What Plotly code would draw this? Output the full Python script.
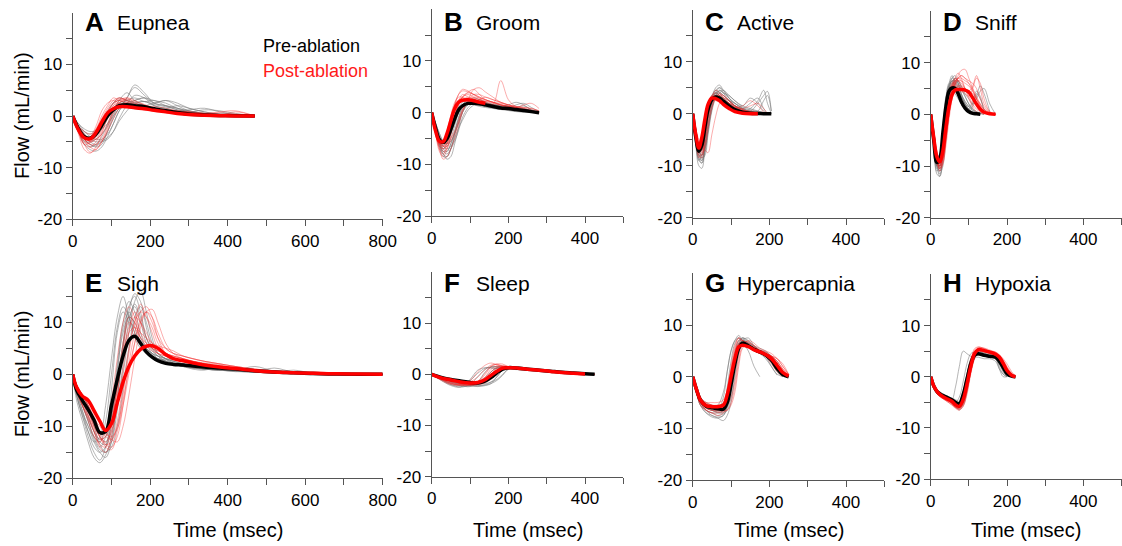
import plotly.graph_objects as go

W, H = 1122, 546
FONT = "Liberation Sans, Arial, Helvetica, sans-serif"

# ---------------- data ----------------
panel_letters = ["A", "B", "C", "D", "E", "F", "G", "H"]
panel_names = ["Eupnea", "Groom", "Active", "Sniff", "Sigh", "Sleep", "Hypercapnia", "Hypoxia"]
x_max = [800, 500, 500, 500, 800, 500, 500, 500]
x_tick_labels = ["0", "200", "400", "600", "800"]
y_tick_labels = ["-20", "-10", "0", "10"]
legend_labels = ["Pre-ablation", "Post-ablation"]
x_title = "Time (msec)"
y_title = "Flow (mL/min)"

# A  Eupnea
A_t = [0, 15, 30, 45, 60, 75, 90, 105, 120, 140, 160, 185, 210, 240, 270, 300, 340, 380, 420, 470]
A_pre_mean = [0, -2.5, -4.0, -4.3, -3.5, -1.8, 0, 1.2, 2.0, 2.2, 2.0, 1.8, 1.4, 1.0, 0.7, 0.4, 0.2, 0.1, 0.05, 0]
A_post_mean = [0, -2.7, -4.2, -4.4, -3.2, -1.2, 0.6, 1.4, 1.8, 1.8, 1.6, 1.4, 1.1, 0.8, 0.5, 0.3, 0.15, 0.05, 0, 0]
A_pre = [
    [0, -2, -3.5, -4.5, -4, -2.5, -0.5, 1.5, 2.5, 3, 2.5, 2, 1.5, 1, 0.6, 0.3, 0.1, 0, 0, 0],
    [0, -3, -5, -6, -5.5, -4, -1.5, 1, 3, 4.5, 3, 2, 1.5, 1.2, 0.8, 0.5, 0.2, 0.1, 0],
    [0, -2, -3, -3.5, -3, -2.5, -1.5, 0, 1.5, 3.5, 6, 4.5, 2.5, 2, 1.5, 1, 0.5, 0.2],
    [0, -3, -5.5, -6.5, -6.8, -6, -4, -1.5, 1, 2.5, 3, 3.5, 2.5, 3, 2, 1, 0.5, 0.2, 0],
    [0, -1.5, -2.5, -3, -2.8, -1.5, 0.5, 2.5, 3.5, 3, 2.5, 2.8, 2, 1.5, 2, 1.5, 0.8, 0.3, 0.1],
    [0, -2.5, -4.5, -5.5, -6, -5.5, -3, 0, 2, 2.5, 4, 3.5, 2, 1.5, 1, 1.2, 1.5, 0.8, 0.3, 0],
    [0, -2, -3.8, -4.2, -3.2, -1, 1, 2.5, 3, 2.2, 1.8, 1.5, 1.2, 0.8, 0.5, 0.3, 0.2, 0, 0],
    [0, -3, -4.8, -5, -4.5, -3.5, -2, 0.5, 2, 3, 3.5, 2.8, 3, 2, 1.5, 0.8, 1.2, 1, 0.5, 0],
    [0, -2.5, -4, -5, -5.5, -5, -4.5, -3, -0.5, 2, 3, 3.5, 3, 2.5, 1.5, 1, 0.5, 0.3, 0.1],
    [0, -1.5, -3, -4, -4.5, -4.5, -3.5, -1.5, 1, 3.5, 5.5, 4, 2.5, 2, 1.2, 0.8, 0.4, 0.1, 0],
    [0, -2.8, -4.5, -5.5, -5.8, -5, -3, -0.5, 1.5, 2.5, 2.2, 2, 2.5, 3, 2.5, 1.5, 0.8, 0.3, 0],
    [0, -2, -3.5, -4.5, -5, -4.8, -4.2, -3, -1, 1, 2.5, 2.8, 2.2, 1.8, 1.2, 0.7, 0.4, 0.2, 0],
]
A_post = [
    [0, -3, -5, -5.2, -4, -1.5, 1, 2.5, 3, 2.5, 2, 1.5, 1.2, 0.8, 0.5, 0.3, 0.1, 0, 0, 0],
    [0, -3.5, -6.5, -7.2, -6, -3.5, 0, 2, 2.5, 2.2, 1.8, 1.5, 1, 0.8, 0.5, 0.3, 0.2, 0.1, 0],
    [0, -2, -3, -3.5, -2.5, 0, 2, 3.5, 3, 2.5, 2, 1.6, 1.2, 0.8, 0.6, 0.4, 0.2, 0.1, 0.8, 0],
    [0, -2.5, -4.5, -5.5, -5.5, -4.5, -2, 1, 3, 3.5, 2.5, 2, 1.5, 1, 0.7, 0.5, 0.3, 0.1, 0],
    [0, -3, -4, -4, -2, 1, 2.5, 3, 2.5, 2, 1.5, 1.2, 1, 1.2, 0.8, 0.5, 0.3],
    [0, -2.5, -4.5, -6, -6.5, -5, -3, -0.5, 1.5, 2.5, 2.2, 2, 1.8, 1.5, 1, 0.8, 0.5, 0.6, 0.4, 0],
    [0, -3, -5.5, -5, -3, -0.5, 1.5, 3, 3.5, 3, 2.5, 1.8, 1.2, 1, 0.8, 0.8, 0.5, 0.3, 0],
    [0, -2, -3.5, -4.5, -4.5, -3.5, -1.5, 1, 2, 1.8, 1.5, 1.2, 1, 0.8, 0.6, 0.4, 0.2, 0.1, 0, 0],
    [0, -3, -5.5, -7, -6.5, -5, -2.5, 0.5, 2.5, 3.5, 3, 2.2, 1.5, 1, 0.7, 0.4, 0.2, 0.1, 0],
    [0, -2, -4, -5, -4.5, -2.5, 0.5, 2.5, 3.5, 3, 2.2, 1.8, 1.4, 1, 0.8, 0.6, 0.5, 0.8, 1, 0],
    [0, -3.2, -5.5, -6, -5, -3, -0.5, 2, 3.2, 2.8, 2, 1.5, 1.2, 0.9, 0.6, 0.4, 0.2, 0.1],
    [0, -2.5, -4.2, -4.8, -4, -2, 0, 1.5, 2.5, 3.2, 2.8, 2.2, 1.5, 1.2, 1, 0.7, 0.4, 0.2, 0],
]

# B  Groom
B_t = [0, 10, 20, 30, 40, 50, 60, 70, 80, 95, 110, 125, 140, 160, 180, 200, 220, 240, 260, 280]
B_pre_mean = [0, -3, -5.2, -5.8, -5, -3.2, -1.2, 0.5, 1.3, 1.8, 1.8, 1.7, 1.5, 1.2, 0.9, 0.8, 0.6, 0.4, 0.2, 0]
B_post_mean = [0, -3.5, -5.5, -5.6, -4, -1.5, 0.8, 2, 2.4, 2.5, 2.3, 2.0, 1.8]
B_pre = [
    [0, -3, -6, -8, -8.5, -7, -4, -1, 1, 2, 2, 1.5, 1.2, 1, 0.8, 0.6, 0.5, 0.3, 0.1, 0],
    [0, -2.5, -5, -6.5, -6, -4, -1.5, 0.5, 1.5, 1.8, 1.5, 1.2, 1, 0.8, 0.6, 0.4, 0.2, 0.1, 0],
    [0, -3, -6.5, -8, -9, -8.5, -6, -3, 0, 2, 2.5, 2.2, 1.8, 1.5, 1.2, 1.5, 2, 1.5, 0.5, 0],
    [0, -2, -4, -5.5, -6, -5.5, -4, -2, 0, 1.5, 2, 2, 1.8, 1.5, 1.2, 1, 1.5, 1.8, 1, 0.2],
    [0, -3.5, -6, -7, -6.5, -5, -2.5, 0, 1.5, 2.5, 2.5, 2, 1.5, 1, 0.8, 0.5, 0.3, 0.1],
    [0, -2.5, -5.5, -7.5, -8, -7, -5.5, -3.5, -1, 1, 2, 2.5, 2, 1.5, 1.2, 0.8, 1, 1.3, 0.6, 0],
    [0, -3, -5, -6, -5, -3, -1, 1, 2, 2.2, 1.8, 1.5, 1.2, 1, 0.8, 0.6, 0.4, 0.2, 0.1, 0],
    [0, -2, -4.5, -6.5, -7, -6.5, -5, -3, -1.5, 0.5, 1.5, 2, 1.8, 1.6, 1.4, 1.2, 1, 0.8, 0.4],
    [0, -2.5, -5, -7, -7.5, -6, -3.5, -1, 1, 2.2, 2.5, 2, 1.5, 1.2, 1, 0.8, 0.5, 0.3, 0.1, 0],
    [0, -3, -6, -7.5, -7.5, -6, -4, -2, 0, 2, 2.8, 2.5, 2, 1.5, 1, 0.8, 0.6, 0.4, 0.2, 0],
    [0, -2, -4, -5.5, -5.5, -4, -2, 0, 1.2, 1.8, 1.6, 1.4, 1.2, 1, 0.8, 0.7, 0.5, 0.3, 0.2, 0],
    [0, -3.5, -6.5, -8.5, -8.5, -7, -4.5, -1.5, 0.5, 1.8, 2.2, 2, 1.8, 1.6, 1.4, 1.2, 1, 0.6, 0.2],
]
B_post = [
    [0, -4, -7, -8, -6, -2, 1.5, 3.5, 4.2, 4, 3.5, 3, 2.5, 2, 1.5, 1, 0.8, 0.5, 0.2, 0],
    [0, -3, -6, -6.5, -5, -2.5, 0, 2, 3, 3.5, 3, 2.5, 2, 1.5, 1.2, 1, 0.8, 0.5],
    [0, -3.5, -7, -9, -8.5, -7, -5, -2.5, 0, 2.5, 4.5, 4.8, 4, 3, 2, 1.5, 1, 0.5, 0.3, 0],
    [0, -3, -5, -5.5, -3.5, -0.5, 2, 3, 3, 2.5, 2.2, 2, 1.8, 1.6, 6.2, 2.5, 1.2, 1, 0.8, 0.3],
    [0, -4, -6.5, -7, -5.5, -3, -0.5, 1.5, 3, 4, 4.5, 3.5, 2.5, 2, 1.5, 1.2, 1, 1.5, 1.8, 0.8],
    [0, -2.5, -5, -6, -6, -5, -3.5, -1.5, 0.5, 2, 3, 2.8, 2.5, 2, 1.5, 1.2, 1, 0.8, 0.5, 0.2],
    [0, -3.5, -6, -7.5, -7, -4.5, -1, 2, 3.5, 3, 2.5, 2, 1.5, 1.2, 1, 0.8, 0.6, 0.4],
    [0, -3, -6, -6, -4, -1, 1.5, 2.5, 2.8, 2.5, 2.2, 2.5, 3, 2.5, 2, 1.5, 1, 0.6, 0.3, 0],
    [0, -3.5, -6, -6.5, -4.5, -1.5, 1.5, 3.5, 4.5, 4.2, 3.5, 2.8, 2.2, 1.8, 1.5, 1.2, 0.9, 0.6, 0.3, 0],
    [0, -2.5, -5, -6.5, -6.5, -5.5, -4, -2, 0.5, 2.5, 3.5, 3.5, 3, 2.5, 2, 1.5, 1.2, 0.8, 0.4, 0.1],
    [0, -3, -5.5, -7, -6, -3.5, -0.5, 1.5, 2.5, 3, 2.8, 2.5, 2.2, 2, 1.8, 1.5, 1.2, 1, 0.8, 0.4],
    [0, -4, -7.5, -8.5, -7, -4, -1, 1.5, 3, 3.8, 3.5, 3, 2.5, 2, 1.6, 1.2, 0.9, 0.5, 0.2, 0],
]

# C  Active
C_t = [0, 8, 16, 24, 32, 40, 50, 60, 70, 80, 95, 110, 130, 150, 170, 185, 195, 205]
C_pre_mean = [0, -4.5, -7.2, -6, -2.5, 0.8, 2.7, 3.2, 3.0, 2.4, 1.5, 0.8, 0.3, 0.1, 0.05, 0, 0, 0]
C_post_mean = [0, -4, -6.6, -4.5, -1, 1.8, 3.0, 2.9, 2.5, 1.8, 1.0, 0.4, 0.1, 0, 0]
C_pre = [
    [0, -5, -8.5, -9, -5, 0, 3.5, 4.5, 4, 3, 2, 1, 0.5, 0.2, 0, 0, 0, 0],
    [0, -4, -7, -8, -6, -2, 2, 4, 5, 4.5, 3, 1.5, 0.5, 1, 2.5, 4.5, 2, 0],
    [0, -6, -10, -10.5, -6, -1, 3, 5, 5.5, 4.5, 3, 2, 1, 0.5, 0.2, 0, 0],
    [0, -4, -7.5, -7, -3, 1, 3, 3.5, 3, 2.5, 2, 1.5, 1, 0.5, 2, 3.5, 4.3, 0.5],
    [0, -5, -8, -8.5, -7, -3, 1, 3.5, 4.5, 4, 3.5, 2.5, 1.5, 3, 2, 0.5, 0],
    [0, -3, -6.5, -8.5, -8, -4, 0.5, 3, 4, 4.5, 3.5, 2.5, 1.5, 1, 0.5, 0.2],
    [0, -4.5, -8, -8, -4, 1, 3.5, 4, 3.5, 3, 2.5, 2, 1.2, 0.8, 0.4, 0.2, 0, 0],
    [0, -5, -9, -9.5, -7, -3, 2, 4.5, 5, 4, 2.5, 1.5, 0.8, 0.3, 0],
    [0, -4, -7.5, -9, -7.5, -3.5, 1, 3.5, 4, 3.5, 2.5, 1.5, 0.8, 0.3, 0.1, 0],
    [0, -5.5, -9, -8, -4, 0.5, 3, 4, 3.5, 2.8, 2, 1.2, 0.6, 0.3, 0.5, 2.5, 3.5, 0.5],
    [0, -3.5, -7, -8, -6.5, -2.5, 1.5, 3.5, 4.5, 4, 3, 2, 1, 0.5, 0.2, 0],
    [0, -4.5, -8.5, -9.5, -6, -1, 2.5, 4, 4.2, 3.5, 2.5, 1.5, 1, 2, 3, 1, 0],
]
C_post = [
    [0, -4, -7, -6, -2, 1.5, 3.5, 3.5, 3, 2.5, 1.5, 1, 0.5, 0.2, 0],
    [0, -4.5, -8, -8.5, -5, -1, 2.5, 3.5, 3.5, 3, 2, 1.2, 0.6, 0.3, 0.1],
    [0, -3, -5, -6, -7, -7.5, -4, -0.5, 2, 3, 2.5, 1.5, 0.8, 0.3, 0],
    [0, -4, -6.5, -5, -1, 2, 3.5, 4, 3.5, 2.5, 1.5, 1, 0.5, 0.2, 0, 0],
    [0, -5, -8.5, -7.5, -3.5, 0.5, 3, 4.5, 4, 3, 2, 1.2, 1, 1.5, 2, 1, 0],
    [0, -3.5, -6, -6.5, -4, 0, 2.5, 3, 2.8, 2.5, 2, 1.5, 0.8, 0.3, 0],
    [0, -4, -7.5, -8, -6, -2, 1.5, 3, 3.5, 3.5, 2.5, 1.5, 0.5, 0.2, 0],
    [0, -4.5, -7, -5, -1.5, 1.5, 2.5, 2.5, 2.2, 2, 1.5, 1, 0.5, 0.5, 0.3, 0],
    [0, -3.5, -6.5, -7, -4.5, -0.5, 2.5, 3.5, 3.2, 2.8, 2, 1.2, 0.6, 0.2, 0],
    [0, -4.5, -7.5, -7, -3, 1, 3, 3.2, 2.8, 2.2, 1.5, 0.8, 0.4, 0.2, 0],
    [0, -3, -6, -7.5, -6.5, -3, 1, 3, 3.8, 3.5, 2.5, 1.5, 0.8, 0.4, 0.1, 0],
    [0, -4, -7, -6.5, -3, 0.5, 2.8, 3.5, 3.2, 2.6, 1.8, 1.2, 1.5, 2.5, 1.5, 0.3],
]

# D  Sniff
D_t = [0, 8, 16, 24, 32, 40, 48, 56, 64, 72, 80, 90, 100, 110, 120, 130, 140, 155, 170]
D_pre_mean = [0, -5, -9.3, -8.5, -3.5, 1.5, 4.5, 5.1, 5.0, 4, 2.5, 1.2, 0.5, 0.2, 0.1, 0]
D_post_mean = [0, -4.5, -8.2, -9.2, -7, -2.5, 1.5, 3.8, 4.7, 4.8, 4.8, 4.7, 4.3, 3.2, 2, 1, 0.4, 0.1, 0]
D_pre = [
    [0, -6, -11, -10, -4, 2, 6, 7.5, 6, 4, 2, 1, 0.5, 0.2, 0],
    [0, -5, -10, -12, -8, -2, 3, 6, 7, 6, 4, 2, 1, 0.5, 0.2, 0],
    [0, -6, -10.5, -9, -3, 3, 6, 6, 5, 3.5, 2, 1, 0.5, 1.5, 3.5, 5.5, 4, 0.5],
    [0, -4, -8.5, -11, -9, -4, 1, 5, 6.5, 6, 5, 3.5, 2, 1, 0.5, 0.2, 0],
    [0, -5.5, -10, -9.5, -5, 1, 5.5, 6.5, 5.5, 4.5, 3.5, 2, 1, 2, 4, 3, 0.5],
    [0, -4.5, -9, -10, -6, 0, 4.5, 7, 7.5, 6, 4, 2.5, 1.5, 0.8, 0.3, 0],
    [0, -6, -10, -8, -2, 3.5, 5.5, 5, 4, 3, 2, 1, 0.5, 0.2, 0],
    [0, -5, -9.5, -11.5, -10, -5, 0, 4, 6, 6.5, 5.5, 4, 3, 2, 3, 4.5, 5, 2, 0],
    [0, -5, -10, -11, -6, 1, 5, 6.5, 6, 5, 3.5, 2, 1, 0.4, 0.1, 0],
    [0, -6, -11.5, -12, -7, 0, 4.5, 6.5, 6.5, 5.5, 4, 2.5, 1.5, 0.8, 0.3, 0],
    [0, -4.5, -9, -10.5, -8, -3, 2, 5.5, 7, 6.5, 5, 3.5, 2, 1, 0.5, 0.2, 0],
    [0, -5, -9.5, -10, -5.5, 1.5, 5.5, 7, 6.5, 5, 3.5, 2, 1.5, 2.5, 4.5, 3.5, 1, 0],
]
D_post = [
    [0, -4, -8, -10, -8, -3, 2, 5, 6.5, 7, 6.5, 5, 3.5, 2, 1, 0.5, 0.2, 0],
    [0, -5, -9, -11, -9.5, -5, 0, 4, 6, 7.5, 8.5, 8.7, 7, 5, 3, 1.5, 0.5, 0.2, 0],
    [0, -4, -7.5, -8.5, -5, 0, 4, 6, 6, 5.5, 5, 4.5, 4, 3, 2, 1, 0.5, 0.2, 0],
    [0, -4.5, -8.5, -10.5, -9, -4, 1, 4.5, 6.5, 7, 7, 6.5, 6, 5, 3.5, 2, 1, 0.3, 0],
    [0, -3.5, -7, -9, -7, -2, 3, 5.5, 5.5, 5, 4.5, 4, 3.5, 5, 7, 6, 3, 0.5, 0],
    [0, -5, -9, -10, -7, -2, 2, 5, 7, 8, 7, 5, 3, 1.5, 0.5, 0.2, 0],
    [0, -4, -7.5, -9.5, -8.5, -4.5, 0, 3, 5, 5.5, 5.5, 5, 4.5, 4, 3, 2, 1, 0.3, 0],
    [0, -4.5, -8.5, -9.5, -6, -1, 3.5, 6, 7, 6.5, 5.5, 4.5, 4.5, 5.5, 7.5, 5, 2, 0.5],
    [0, -4.5, -8.5, -10, -8, -3.5, 1.5, 4.5, 6, 6.5, 6.5, 6, 5.5, 4.5, 3, 1.5, 0.6, 0.2, 0],
    [0, -4, -8, -10.5, -9.5, -6, -1, 3, 5.5, 7, 7.5, 7, 6, 4.5, 3, 1.8, 0.8, 0.2, 0],
    [0, -5, -9.5, -10.5, -7.5, -2.5, 2.5, 5.5, 6.5, 6.5, 6, 5, 4, 3, 2, 1.2, 0.5, 0.1],
    [0, -3.5, -7, -9, -8, -4, 0.5, 4, 6, 7, 7.5, 7, 6.5, 6, 5, 3, 1.5, 0.4, 0],
]

# E  Sigh
E_t = [0, 10, 25, 40, 55, 70, 85, 100, 115, 130, 145, 160, 175, 190, 205, 220, 240, 260, 285, 310,
       340, 380, 420, 470, 520, 570, 620, 680, 740, 800]
E_pre_mean = [0, -3, -5, -6.8, -8.8, -11.2, -11.0, -6.0, -1.0, 3.5, 6.5, 7.3, 6.0, 4.3, 3.3, 2.6, 2.1, 1.9, 1.8, 1.6,
              1.4, 1.2, 1.0, 0.7, 0.45, 0.3, 0.15, 0.05, 0, 0]
E_post_mean = [0, -2.5, -4.2, -5, -7, -9, -10.8, -9.5, -5.5, -1.5, 1.5, 3.5, 4.8, 5.4, 5.5, 5.0, 3.8, 3.0, 2.6, 2.2,
               1.8, 1.4, 1.1, 0.7, 0.45, 0.3, 0.2, 0.1, 0.05, 0]
E_pre = [
    [0, -4, -8, -12, -15, -16.5, -14, -8, 2, 10, 14, 12, 8, 5, 4, 3.5, 3, 2.5, 2, 1.5, 1.5, 1, 1.2, 0.5, 0.3, 0.8, 0.2, 0.1, 0, 0],
    [0, -3, -6, -9, -12, -14, -12, -3, 8, 12, 10, 7, 5, 4, 3.5, 3, 2.5, 2, 1.5, 1, 0.8, 1.5, 0.8, 0.4, 0.2, 0.1, 0, 0],
    [0, -5, -9, -13, -16, -17, -15.5, -12, -5, 5, 12, 15.5, 14, 9, 5, 3.5, 2.5, 2, 1.8, 1.5, 1.2, 1, 0.8, 0.6, 0.5, 0.3, 0.2, 0.1, 0, 0],
    [0, -2, -4, -6, -9, -12, -13, -10, -2, 6, 11, 13, 10, 6, 4, 3, 2.5, 2, 1.8, 1.2, 1, 0.8, 0.5, 0.5, 0.3, 0.2, 0.1, 0, 0],
    [0, -3.5, -7, -11, -13, -12, -6, 3, 11, 15, 11, 8, 6, 5, 4, 3, 2.5, 2, 1.5, 1.5, 1, 0.8, 0.6, 0.4, 0.3, 0.2, 0.1],
    [0, -4, -8, -11, -14, -15, -14, -11, -6, 0, 8, 14, 16, 12, 7, 4, 3, 2, 1.5, 1.2, 1, 0.8, 1, 0.6, 0.4, 0.3, 0.2, 0.1, 0, 0],
    [0, -2.5, -5, -7, -10, -13, -13.5, -9, 0, 9, 12, 9, 6, 4.5, 3.5, 3, 2.5, 2.2, 2, 1.5, 1, 0.8, 0.7, 0.5, 1.2, 0.4, 0.2, 0.1, 0, 0],
    [0, -3, -6, -8.5, -11, -13.5, -15, -14, -10, -3, 5, 11, 13, 10, 6, 4, 3, 2.5, 2, 1.5, 1.2, 1, 0.8, 0.6, 0.4, 0.2, 0.1, 0],
    [0, -3, -7, -10, -13, -15, -16, -13, -5, 6, 13, 15, 12, 7, 4.5, 3.5, 2.5, 2, 1.5, 1.2, 1, 0.8, 0.6, 0.4, 0.3, 0.2, 0.1, 0],
    [0, -4, -7.5, -10, -12, -13, -9, 0, 9, 13, 11, 8, 6, 5, 4, 3.5, 3, 2.8, 2.5, 2, 1.5, 1, 0.8, 0.5, 0.3, 0.2, 0.1, 0],
    [0, -3, -6, -9, -12.5, -14.5, -15, -13, -7, 2, 10, 13.5, 11, 7, 5, 4, 3, 2.5, 2, 1.5, 1.2, 1, 0.8, 1.5, 0.6, 0.3, 0.2, 0.1, 0],
    [0, -2, -5, -8, -11, -12.5, -12, -8, 1, 8, 11, 10, 7, 5, 3.5, 3, 2.8, 2.2, 1.8, 1.4, 1.1, 1, 0.7, 0.5, 0.3, 0.2, 0.1, 0],
]
E_post = [
    [0, -3, -5, -7, -10, -12, -13, -11, -6, 1, 8, 12, 10, 7, 5, 4, 3.5, 3, 2.5, 2, 1.5, 1.2, 1, 0.8, 0.5, 0.3, 0.2, 0.1, 0, 0],
    [0, -2, -4, -6, -8, -11, -13.5, -14, -12, -6, 2, 8, 12, 13, 11, 7, 4, 3, 2.5, 2.5, 2, 1.5, 1, 0.8, 0.5, 0.3, 0.2, 0.1, 0, 0],
    [0, -3.5, -6, -8, -11, -14, -15, -12, -4, 5, 10, 9, 7, 6, 5, 4.5, 4, 3.5, 3, 2.5, 2, 1.5, 1, 0.6, 0.4, 0.3, 0.2, 0.1, 0, 0],
    [0, -2.5, -4.5, -5.5, -7, -9, -11, -12.5, -13, -10, -4, 3, 9, 12, 12.5, 10, 6, 4, 3, 2.5, 2.2, 1.8, 1.2, 0.8, 0.5, 0.3, 0.2, 0.1, 0, 0],
    [0, -3, -6, -9, -12, -13, -11, -5, 3, 10, 13, 11, 8, 6, 5, 4.5, 4, 3.5, 3, 2.5, 2, 1.5, 1, 0.7, 0.4, 0.3, 0.2, 0.1, 0, 0],
    [0, -2, -4, -6, -9, -11, -12, -12.5, -10, -5, 1, 6, 10, 12, 10, 7, 5, 4, 3.5, 3, 2.5, 2, 1.5, 1, 0.7, 0.5, 0.3, 0.2, 0.1, 0],
    [0, -3, -5, -7, -9.5, -12, -13.5, -13, -9, -2, 5, 10, 13.5, 11, 8, 5, 3.5, 3, 2.5, 2, 1.8, 1.5, 1.2, 0.8, 0.5, 0.3, 0.5, 0.2, 0.1, 0],
    [0, -2.5, -5, -7.5, -10, -11.5, -11, -8, -2, 4, 8, 9, 8, 7, 6, 5.5, 5, 4.5, 3.5, 3, 2.5, 2, 1.5, 1, 0.6, 0.4, 0.2, 0.1, 0, 0],
    [0, -2.5, -5, -7, -9.5, -12, -14, -14.5, -11, -4, 4, 10, 12, 11, 9, 6, 4, 3, 2.5, 2, 1.6, 1.3, 1, 0.7, 0.5, 0.3, 0.2, 0.1, 0],
    [0, -3, -5.5, -8, -10.5, -12.5, -12, -9, -3, 4, 9, 11, 10, 8, 6, 5, 4, 3.5, 3, 2.5, 2, 1.6, 1.2, 0.8, 0.5, 0.3, 0.2, 0.1, 0],
    [0, -2, -4, -6, -8.5, -10, -11.5, -12, -10.5, -6, 0, 6, 10.5, 12, 11, 8, 5, 4, 3.5, 3, 2.5, 2, 1.5, 1, 0.7, 0.4, 0.2, 0.1, 0],
    [0, -3, -6, -8.5, -11, -13.5, -14, -10, -2, 6, 11, 10, 7, 5.5, 4.5, 4, 3.5, 3, 2.5, 2.2, 1.8, 1.4, 1.1, 0.8, 0.5, 0.3, 0.2, 0.1, 0],
]

# F  Sleep
F_t = [0, 25, 50, 75, 100, 120, 140, 155, 170, 185, 200, 225, 250, 280, 310, 340, 370, 400, 425]
F_pre_mean = [0, -0.6, -1.0, -1.3, -1.6, -1.7, -1.3, -0.6, 0.3, 1.0, 1.3, 1.2, 1.0, 0.8, 0.6, 0.4, 0.25, 0.1, 0]
F_post_mean = [0, -0.7, -1.1, -1.5, -1.7, -1.6, -1.0, -0.2, 0.6, 1.2, 1.3, 1.2, 1.0, 0.8, 0.55, 0.35, 0.2, 0.05]
F_pre = [
    [0, -1, -2, -2.5, -2, -0.5, 1, 1.5, 1.5, 1.3, 1.2, 1, 0.8, 0.6, 0.4, 0.2, 0.1, 0],
    [0, -1.2, -2.2, -2.5, -1, 0.8, 1.3, 1.2, 1.1, 1, 1, 0.9, 0.8, 0.6, 0.4, 0.2, 0.1, 0],
    [0, -0.8, -1.5, -2, -2.2, -2.3, -2, -1.5, -0.5, 0.8, 1.3, 1.2, 1, 0.8, 0.6, 0.4, 0.2, 0.1, 0],
    [0, -0.5, -1, -1.5, -1.8, -1.5, -0.5, 0.5, 1.2, 1.4, 1.3, 1.1, 1, 0.9, 0.6, 0.4, 0.2, 0],
    [0, -1, -1.8, -2.2, -2.3, -2, -1.8, -1.5, -1, 0, 1, 1.4, 1.1, 0.8, 0.5, 0.3, 0.2, 0.1, 0],
    [0, -0.8, -1.5, -1.8, -1.2, 0.2, 1.2, 1.3, 1.2, 1.2, 1.1, 1, 0.9, 0.7, 0.5, 0.3, 0.1, 0],
    [0, -0.6, -1.2, -1.8, -2.2, -2.4, -2.2, -1.8, -0.5, 0.8, 1.5, 1.3, 1.1, 0.8, 0.5, 0.3, 0.2, 0.1, 0],
    [0, -1.1, -2, -2.3, -2.2, -1.8, -1, 0.5, 1.3, 1.4, 1.2, 1.1, 0.9, 0.7, 0.5, 0.3, 0.2, 0.1, 0],
    [0, -0.7, -1.4, -1.9, -2.1, -2.2, -2.1, -1.8, -1.2, -0.2, 1, 1.5, 1.2, 0.9, 0.6, 0.4, 0.2, 0.1, 0],
    [0, -0.9, -1.7, -2.2, -2.4, -1.5, 0.5, 1.4, 1.5, 1.3, 1.2, 1, 0.9, 0.7, 0.5, 0.3, 0.1, 0],
]
F_post = [
    [0, -1, -1.8, -2, -1.5, -0.5, 1, 1.8, 2, 1.6, 1.3, 1.1, 0.9, 0.7, 0.5, 0.3, 0.2, 0.1, 0],
    [0, -0.8, -1.5, -1.8, -2, -1.8, -0.5, 1, 1.6, 1.5, 1.3, 1.1, 1, 0.8, 0.5, 0.3, 0.2, 0.1, 0],
    [0, -1.2, -2, -2.2, -2, -1.5, 0, 1.5, 2, 2, 1.5, 1.2, 0.8, 0.6, 0.4, 0.3, 0.2, 0],
    [0, -0.6, -1, -1.3, -1.5, -1.6, -1.4, -1, 0, 1, 1.5, 1.4, 1.2, 0.9, 0.6, 0.4, 0.2, 0.1, 0],
    [0, -1, -1.6, -2, -2.1, -1.8, -0.8, 0.5, 1.4, 1.6, 1.4, 1.2, 1.1, 1, 0.7, 0.4, 0.2, 0.1, 0],
    [0, -0.9, -1.7, -2, -1.2, 0.5, 1.8, 2.2, 1.8, 1.5, 1.3, 1.1, 0.9, 0.7, 0.5, 0.3, 0.1, 0],
    [0, -0.7, -1.3, -1.7, -1.9, -2, -1.6, -0.8, 0.4, 1.2, 1.4, 1.3, 1.1, 1, 0.6, 0.4, 0.2, 0.1, 0],
    [0, -0.8, -1.4, -1.8, -1.9, -1.4, 0.3, 1.6, 1.9, 1.5, 1.3, 1.1, 1, 0.8, 0.5, 0.3, 0.2, 0.1, 0],
    [0, -1, -1.8, -2.1, -2.2, -2, -1.6, -0.5, 0.8, 1.5, 1.5, 1.3, 1.1, 0.9, 0.6, 0.4, 0.2, 0.1],
    [0, -0.6, -1.2, -1.6, -1.8, -1.7, -1.2, 0, 1.2, 1.7, 1.5, 1.2, 1, 0.8, 0.6, 0.4, 0.2, 0.1, 0],
]

# G  Hypercapnia
G_t = [0, 10, 20, 35, 50, 65, 80, 90, 100, 110, 120, 130, 145, 160, 175, 190, 205, 220, 235, 250]
G_pre_mean = [0, -2.5, -4.5, -5.7, -6, -6.2, -6.3, -5, -1.5, 2.5, 5.5, 6.5, 6.0, 5.3, 4.8, 4.2, 3.2, 1.6, 0.4, 0]
G_post_mean = [0, -2.5, -4.5, -5.6, -5.8, -5.8, -5.5, -3.5, 0, 3.5, 5.8, 6.1, 5.8, 5.2, 4.8, 4.3, 3.5, 2.2, 0.8, 0.1]
G_pre = [
    [0, -3, -5.5, -7, -7.5, -7.8, -7.5, -5, -1, 4, 7, 7.5, 6.5, 5.5, 5, 4.5, 3, 1, 0],
    [0, -2.5, -4.5, -6, -6.5, -6.5, -4, 1, 5, 7, 8, 7, 6, 5.5, 5, 4, 2, 0.3],
    [0, -3, -5, -6.5, -7.5, -8, -8.5, -7.5, -5, 0, 4.5, 7, 7.5, 6, 5, 4.5, 4, 2.5, 0.5, 0],
    [0, -2, -4, -5, -5.5, -5.5, -3, 1, 5, 7, 7.5, 6.5, 5, 2, 0],
    [0, -3, -5, -6, -6.5, -7, -7, -6, -3, 2, 6, 7, 6.5, 6, 5.5, 5, 4, 3, 1.2, 0.2],
    [0, -2.5, -4.5, -6, -6.5, -6.5, -6, -2, 3, 6.5, 7.5, 7, 6, 5, 4.5, 3.5, 2, 0.5, 0],
    [0, -3, -5.5, -6.5, -7, -7.5, -7.2, -6.5, -4, 1, 5, 7, 6.5, 5.5, 5, 4.5, 3.5, 1.8, 0.3, 0],
    [0, -2.8, -5, -6.5, -7, -7, -6.8, -5.5, -2, 3, 6.5, 7.5, 6.8, 5.8, 5, 4.5, 3.8, 2, 0.5, 0],
    [0, -2.5, -4.8, -6, -6.5, -6.8, -6.5, -4, 0.5, 5, 7, 7.2, 6.2, 5.2, 4.8, 4.2, 2.8, 1, 0.2],
    [0, -3.2, -5.5, -7, -7.8, -8, -7.5, -6, -2.5, 2.5, 6, 7.5, 7, 6, 5.2, 4.8, 4, 2.5, 0.8, 0],
]
G_post = [
    [0, -3, -5, -6.5, -7, -7, -6.5, -4, 0, 4.5, 7, 7, 6.5, 5.8, 5.2, 4.8, 4, 2.5, 1, 0.2],
    [0, -2.5, -4.5, -5, -5, -5, -4.5, -2.5, 2, 6, 7.5, 7, 6, 5, 4.5, 4, 3, 1.5, 0.3],
    [0, -2.5, -4.5, -5.5, -6, -6.5, -6.5, -6.5, -5.5, -3, 2, 5.5, 6.5, 6, 5, 4.5, 4, 3, 1.5, 0.3],
    [0, -2, -4, -5, -5.5, -6, -6, -5, -2, 3, 6.5, 6.5, 5.8, 5, 4.5, 4.5, 4, 3.5, 2, 0.5],
    [0, -3, -5.5, -6.5, -7, -7.5, -7, -5.5, -1.5, 3, 6, 6.5, 6, 5.5, 5, 4, 2.5, 1, 0],
    [0, -2.5, -4.5, -5.5, -5.5, -6, -6, -5.5, -4, -1, 4, 6.5, 6.8, 6, 5, 4.5, 4, 3.5, 2.5, 0.5],
    [0, -3, -5, -5.5, -6, -6, -5, -3, 1.5, 5.5, 7.5, 7, 6, 5, 4.5, 4, 3.5, 2, 0.5, 0],
    [0, -2.8, -4.8, -6, -6.5, -6.5, -6, -4.5, -0.5, 4, 6.5, 7, 6.2, 5.5, 5, 4.5, 4, 3, 1.5, 0.3],
    [0, -2.2, -4.2, -5.2, -5.5, -5.5, -5.2, -4, -1, 3, 6, 6.5, 6, 5.2, 4.8, 4.4, 3.8, 2.5, 1, 0.2],
    [0, -3, -5.2, -6.2, -6.5, -6.8, -6.8, -6.5, -5, -2, 3, 6, 7, 6.5, 5.5, 5, 4.5, 3.5, 2, 0.5],
]

# H  Hypoxia
H_t = [0, 8, 18, 30, 42, 55, 65, 75, 85, 95, 105, 115, 125, 140, 155, 170, 180, 190, 200, 212, 222]
H_pre_mean = [0, -1.8, -3, -3.6, -4, -4.5, -5, -5.3, -3.5, -0.5, 2.5, 4.2, 4.5, 4.2, 4.0, 3.8, 3.0, 1.8, 0.6, 0.1, 0]
H_post_mean = [0, -1.8, -3, -3.8, -4.3, -4.8, -5.5, -5.8, -4.5, -1.5, 2, 4.5, 5.3, 5.1, 4.8, 4.4, 3.8, 2.6, 1.2, 0.3, 0]
H_pre = [
    [0, -2, -3.5, -4, -4.5, -5, -5.5, -6, -4, 0, 3.5, 4.5, 4.5, 4.2, 4, 3.8, 3, 1.5, 0.3, 0],
    [0, -1.5, -3, -3.5, -4, -4.5, -2, 2, 5, 4.5, 4, 3.8, 3.8, 3.5, 3.5, 3, 1.5, 0.5, 0],
    [0, -2, -3.2, -3.8, -4.2, -5, -5.5, -5.8, -5, -2, 2, 4, 5, 4.8, 4.5, 4, 3, 1, 0],
    [0, -1.5, -2.8, -3.5, -4, -4.2, -4.5, -4.8, -3, 0.5, 3.5, 4.5, 4.2, 4, 3.8, 3.5, 2, 0.5, 0],
    [0, -2, -3.5, -4, -4.5, -5, -5.5, -6, -5.5, -3, 1, 3.5, 4.5, 4.2, 4, 3.8, 3.5, 2.5, 1, 0.2, 0],
    [0, -1.8, -3, -3.5, -4, -4.5, -5, -4, -1, 2.5, 4.5, 4.8, 4.5, 4.2, 4, 3.5, 1.5, 0, 0],
    [0, -2, -3.2, -3.8, -4.5, -5.2, -6, -6.2, -5, -1.5, 2.5, 4.5, 5, 4.6, 4.2, 4, 3.5, 2, 0.5, 0],
    [0, -1.8, -3.2, -3.8, -4.2, -4.8, -5.5, -5.5, -3, 0.5, 3, 4.2, 4.3, 4, 3.8, 3.6, 2.5, 1, 0.2, 0],
    [0, -2, -3.3, -3.9, -4.4, -5, -5.8, -6.5, -5.5, -2.5, 1.5, 4, 4.8, 4.5, 4.2, 4, 3.5, 2.5, 1, 0.2, 0],
    [0, -1.6, -2.9, -3.4, -3.8, -4.2, -4.8, -5, -3.8, -0.5, 3, 4.2, 4.3, 4.1, 3.9, 3.7, 3, 1.5, 0.4, 0],
]
H_post = [
    [0, -2, -3.5, -4.2, -4.8, -5.5, -6.2, -6.5, -5, -2, 2, 4.8, 5.5, 5.2, 4.8, 4.5, 4, 3, 1.5, 0.4, 0],
    [0, -1.8, -3, -3.8, -4.2, -4.8, -5.5, -5.5, -3.5, 0, 3.5, 5, 5.5, 5, 4.7, 4.2, 3.5, 2, 0.8, 0.1],
    [0, -2, -3.3, -4, -4.5, -5, -5.8, -6.3, -5.8, -3.5, 0.5, 3.5, 5, 5.2, 5, 4.5, 4, 3, 1.8, 0.5, 0],
    [0, -1.5, -2.8, -3.5, -4, -4.5, -5, -5.2, -4, -1, 2.5, 4.5, 5, 4.8, 4.5, 4.2, 3.5, 2.2, 1, 0.2],
    [0, -2.2, -3.5, -4.2, -4.8, -5.5, -6, -6, -4.5, -1, 3, 5.5, 5.8, 5.5, 5, 4.6, 4, 3, 1.5, 0.3, 0],
    [0, -1.8, -3.2, -3.8, -4.2, -4.6, -5.2, -5.6, -4.8, -2.5, 1, 4, 5.2, 5, 4.8, 4.5, 4.2, 3.5, 2.5, 1, 0.2],
    [0, -2, -3.2, -4, -4.5, -5, -5.5, -5.8, -5, -2, 1.5, 4.2, 5, 5.2, 5, 4.8, 4.2, 3, 1.5, 0.3],
    [0, -2, -3.4, -4.1, -4.7, -5.3, -6, -6.2, -4.8, -1.8, 2, 4.8, 5.6, 5.3, 5, 4.7, 4.2, 3, 1.5, 0.4, 0],
    [0, -1.7, -3, -3.7, -4.2, -4.7, -5.3, -5.7, -4.2, -0.8, 3, 5.2, 5.8, 5.5, 5, 4.5, 3.8, 2.5, 1.2, 0.3, 0],
    [0, -2.1, -3.4, -4.2, -4.6, -5.2, -6, -6.5, -5.8, -3, 1, 4, 5.5, 5.6, 5.2, 4.8, 4.3, 3.3, 2, 0.7, 0],
]

panel_data = [
    (A_t, A_pre, A_post, A_pre_mean, A_post_mean),
    (B_t, B_pre, B_post, B_pre_mean, B_post_mean),
    (C_t, C_pre, C_post, C_pre_mean, C_post_mean),
    (D_t, D_pre, D_post, D_pre_mean, D_post_mean),
    (E_t, E_pre, E_post, E_pre_mean, E_post_mean),
    (F_t, F_pre, F_post, F_pre_mean, F_post_mean),
    (G_t, G_pre, G_post, G_pre_mean, G_post_mean),
    (H_t, H_pre, H_post, H_pre_mean, H_post_mean),
]

# ---------------- layout (pixel boxes: x0, x1, y_bottom, y_top) ----------------
boxes = [
    (72.7, 382.7, 219.3, 12.7),
    (431.7, 623.4, 216.0, 9.3),
    (692.7, 884.4, 217.7, 9.7),
    (930.7, 1121.5, 217.7, 11.0),
    (72.7, 382.7, 478.3, 270.3),
    (431.7, 623.4, 476.7, 271.9),
    (692.7, 884.4, 480.0, 273.4),
    (930.7, 1121.5, 479.0, 274.4),
]

AX_COLOR = "#555555"
GRAY_THIN = "rgba(120,120,120,0.55)"
RED_THIN = "rgba(245,40,40,0.38)"
RED = "#ff0000"

fig = go.Figure()
layout = {}
annotations = []


def px_x(v):
    return v / W


def px_y(v):
    return 1 - v / H


for i in range(8):
    t, pre, post, pre_mean, post_mean = panel_data[i]
    xs = "x" if i == 0 else f"x{i+1}"
    ys = "y" if i == 0 else f"y{i+1}"
    for tr in pre:
        fig.add_trace(go.Scatter(x=t[:len(tr)], y=tr, mode="lines", xaxis=xs, yaxis=ys,
                                 line=dict(color=GRAY_THIN, width=1.0, shape="spline", smoothing=1.0),
                                 showlegend=False, hoverinfo="skip"))
    for tr in post:
        fig.add_trace(go.Scatter(x=t[:len(tr)], y=tr, mode="lines", xaxis=xs, yaxis=ys,
                                 line=dict(color=RED_THIN, width=1.0, shape="spline", smoothing=1.0),
                                 showlegend=False, hoverinfo="skip"))
    fig.add_trace(go.Scatter(x=t[:len(pre_mean)], y=pre_mean, mode="lines", xaxis=xs, yaxis=ys,
                             line=dict(color="black", width=3.5, shape="spline", smoothing=1.0),
                             showlegend=False, hoverinfo="skip"))
    fig.add_trace(go.Scatter(x=t[:len(post_mean)], y=post_mean, mode="lines", xaxis=xs, yaxis=ys,
                             line=dict(color=RED, width=3.5, shape="spline", smoothing=1.0),
                             showlegend=False, hoverinfo="skip"))

    x0, x1, yb, yt = boxes[i]
    xm = x_max[i]
    xt_vals = list(range(0, xm + 1, 100))
    xt_text = [str(v) if (v % 200 == 0 and str(v) in x_tick_labels) else "" for v in xt_vals]
    yt_vals = list(range(-20, 16, 5))
    yt_text = [str(v) if str(v) in y_tick_labels else "" for v in yt_vals]
    xa_name = "xaxis" if i == 0 else f"xaxis{i+1}"
    ya_name = "yaxis" if i == 0 else f"yaxis{i+1}"
    layout[xa_name] = dict(domain=[px_x(x0), px_x(x1)], range=[0, xm], anchor=ys,
                           tickmode="array", tickvals=xt_vals, ticktext=xt_text,
                           ticks="outside", ticklen=6, tickwidth=1.3, tickcolor=AX_COLOR,
                           showline=True, linecolor=AX_COLOR, linewidth=1.3,
                           showgrid=False, zeroline=False, automargin=False,
                           tickfont=dict(family=FONT, size=17, color="black"))
    layout[ya_name] = dict(domain=[px_y(yb), px_y(yt)], range=[-20, 20], anchor=xs,
                           tickmode="array", tickvals=yt_vals, ticktext=yt_text,
                           ticks="outside", ticklen=6, tickwidth=1.3, tickcolor=AX_COLOR,
                           showline=True, linecolor=AX_COLOR, linewidth=1.3,
                           showgrid=False, zeroline=False, automargin=False,
                           tickfont=dict(family=FONT, size=17, color="black"))

    row_title_y = 21.7 if i < 4 else 283.3
    annotations.append(dict(x=px_x(x0 + 10), y=px_y(row_title_y), xref="paper", yref="paper",
                            text=f"<b>{panel_letters[i]}</b>", showarrow=False,
                            xanchor="left", yanchor="middle",
                            font=dict(family=FONT, size=26, color="black")))
    annotations.append(dict(x=px_x(x0 + 42), y=px_y(row_title_y + 0.5), xref="paper", yref="paper",
                            text=panel_names[i], showarrow=False,
                            xanchor="left", yanchor="middle",
                            font=dict(family=FONT, size=21, color="black")))
    if i >= 4:
        annotations.append(dict(x=px_x((x0 + x1) / 2), y=px_y(530), xref="paper", yref="paper",
                                text=x_title, showarrow=False, xanchor="center", yanchor="middle",
                                font=dict(family=FONT, size=20, color="black")))
    if i in (0, 4):
        annotations.append(dict(x=px_x(22), y=px_y((yb + yt) / 2), xref="paper", yref="paper",
                                text=y_title, showarrow=False, textangle=-90,
                                xanchor="center", yanchor="middle",
                                font=dict(family=FONT, size=20, color="black")))

annotations.append(dict(x=px_x(260.7), y=px_y(45.5), xref="paper", yref="paper",
                        text=legend_labels[0], showarrow=False, xanchor="left", yanchor="middle",
                        font=dict(family=FONT, size=18, color="black")))
annotations.append(dict(x=px_x(260.7), y=px_y(71.5), xref="paper", yref="paper",
                        text=legend_labels[1], showarrow=False, xanchor="left", yanchor="middle",
                        font=dict(family=FONT, size=18, color="#ff1a1a")))

fig.update_layout(**layout)
fig.update_layout(width=W, height=H, autosize=False,
                  margin=dict(l=0, r=0, t=0, b=0, pad=0),
                  paper_bgcolor="white", plot_bgcolor="white",
                  showlegend=False, annotations=annotations,
                  font=dict(family=FONT, color="black"))

fig.write_html("out.html")
